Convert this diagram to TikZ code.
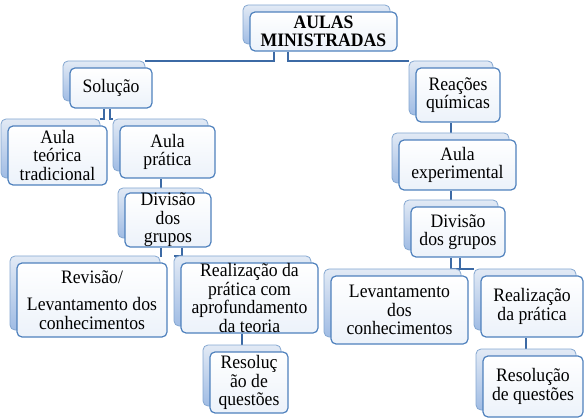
\documentclass[tikz,border=0pt]{standalone}
\usepackage{fontspec}
\setmainfont{Liberation Serif}[FakeStretch=0.93]
\usepackage{xcolor}
\definecolor{boxblue}{RGB}{79,129,189}
\definecolor{linkblue}{RGB}{60,106,165}
\definecolor{backtop}{RGB}{226,234,245}
\definecolor{backbot}{RGB}{160,188,228}
\definecolor{fronttop}{RGB}{255,255,255}
\definecolor{frontbot}{RGB}{236,242,250}
\usetikzlibrary{positioning,calc,backgrounds}
\newcommand{\boxfont}{\fontsize{19}{18.5}\selectfont\lineskiplimit=-20pt\relax}
\tikzset{
  back/.style={draw=boxblue!70, line width=0.8pt, rounded corners=5pt, top color=backtop, bottom color=backbot, inner sep=0pt},
  front/.style={draw=boxblue, line width=1.2pt, rounded corners=5pt, top color=fronttop, bottom color=frontbot, align=center, inner sep=0pt, font=\boxfont},
  link/.style={draw=linkblue, line width=2pt},
}
\begin{document}
\begin{tikzpicture}[x=1pt, y=-1pt]
  \useasboundingbox (0,0) rectangle (588,419);
  % level 0
  \node[back, minimum width=147pt, minimum height=39pt] (rootb) at (316.5,24.5) {};
  \node[front, minimum width=147pt, minimum height=39pt, font=\boxfont\bfseries] (root) at (323.5,31.5) {AULAS\\MINISTRADAS};
  % level 1
  \node[back, minimum width=82pt, minimum height=40pt] (solb) at (104,81) {};
  \node[front, minimum width=82pt, minimum height=40pt] (sol) at (111,88) {Solução};
  \node[back, minimum width=84pt, minimum height=54pt] (reacb) at (451,88) {};
  \node[front, minimum width=84pt, minimum height=54pt] (reac) at (458,95) {Reações\\químicas};
  % level 2
  \node[back, minimum width=99pt, minimum height=59pt] (teorb) at (50.5,148.5) {};
  \node[front, minimum width=99pt, minimum height=59pt] (teor) at (57.5,155.5) {Aula\\teórica\\tradicional};
  \node[back, minimum width=95pt, minimum height=52pt] (pratb) at (160.5,145) {};
  \node[front, minimum width=95pt, minimum height=52pt] (prat) at (167.5,152) {Aula\\prática};
  \node[back, minimum width=117pt, minimum height=50pt] (experb) at (450.5,158) {};
  \node[front, minimum width=117pt, minimum height=50pt] (exper) at (457.5,165) {Aula\\experimental};
  % level 3
  \node[back, minimum width=86pt, minimum height=50pt] (divLb) at (161,213) {};
  \node[front, minimum width=86pt, minimum height=50pt] (divL) at (168,220) {Divisão\\dos\\grupos};
  \node[back, minimum width=94pt, minimum height=50pt] (divRb) at (451,225) {};
  \node[front, minimum width=94pt, minimum height=50pt] (divR) at (458,232) {Divisão\\dos grupos};
  % level 4
  \node[back, minimum width=150pt, minimum height=74pt] (revb) at (85,293) {};
  \node[front, minimum width=150pt, minimum height=74pt] (rev) at (92,300) {Revisão/\\[9pt]Levantamento dos\\conhecimentos};
  \node[back, minimum width=137pt, minimum height=70pt] (realLb) at (242.5,291) {};
  \node[front, minimum width=137pt, minimum height=70pt] (realL) at (249.5,298) {Realização da\\prática com\\aprofundamento\\da teoria};
  \node[back, minimum width=137pt, minimum height=68pt] (levRb) at (392.5,303) {};
  \node[front, minimum width=137pt, minimum height=68pt] (levR) at (399.5,310) {Levantamento\\dos\\conhecimentos};
  \node[back, minimum width=102pt, minimum height=61pt] (realRb) at (525,299.5) {};
  \node[front, minimum width=102pt, minimum height=61pt] (realR) at (532,306.5) {Realização\\da prática};
  % level 5
  \node[back, minimum width=78pt, minimum height=61pt] (resLb) at (242,375.5) {};
  \node[front, minimum width=78pt, minimum height=61pt] (resL) at (249,382.5) {Resoluç\\ão de\\questões};
  \node[back, minimum width=100pt, minimum height=61pt] (resRb) at (526,379.5) {};
  \node[front, minimum width=100pt, minimum height=61pt] (resR) at (533,386.5) {Resolução\\de questões};
  % connectors
  \begin{scope}[on background layer]
    \draw[link] ([xshift=-50pt]root.south) |- (solb.north east);
    \draw[link] ([xshift=-36pt]root.south) |- (reacb.north west);
    \draw[link] ([xshift=-7pt]sol.south) |- (teorb.north east);
    \draw[link] ([xshift=-1pt]sol.south) |- (pratb.north west);
    \draw[link] (divLb.north) -- (divLb.north |- prat.south);
    \draw[link] (experb.north) -- (experb.north |- reac.south);
    \draw[link] (divRb.north) -- (divRb.north |- exper.south);
    \draw[link] ([xshift=-7pt]divL.south) |- (revb.north east);
    \draw[link] ([xshift=14pt]divL.south) |- (realLb.north west);
    \draw[link] (resLb.north) -- (resLb.north |- realL.south);
    \draw[link] ([xshift=-7pt]divR.south) |- (levRb.north east);
    \draw[link] ([xshift=2pt]divR.south) |- (realRb.north west);
    \draw[link] (resRb.north) -- (resRb.north |- realR.south);
  \end{scope}
\end{tikzpicture}
\end{document}
